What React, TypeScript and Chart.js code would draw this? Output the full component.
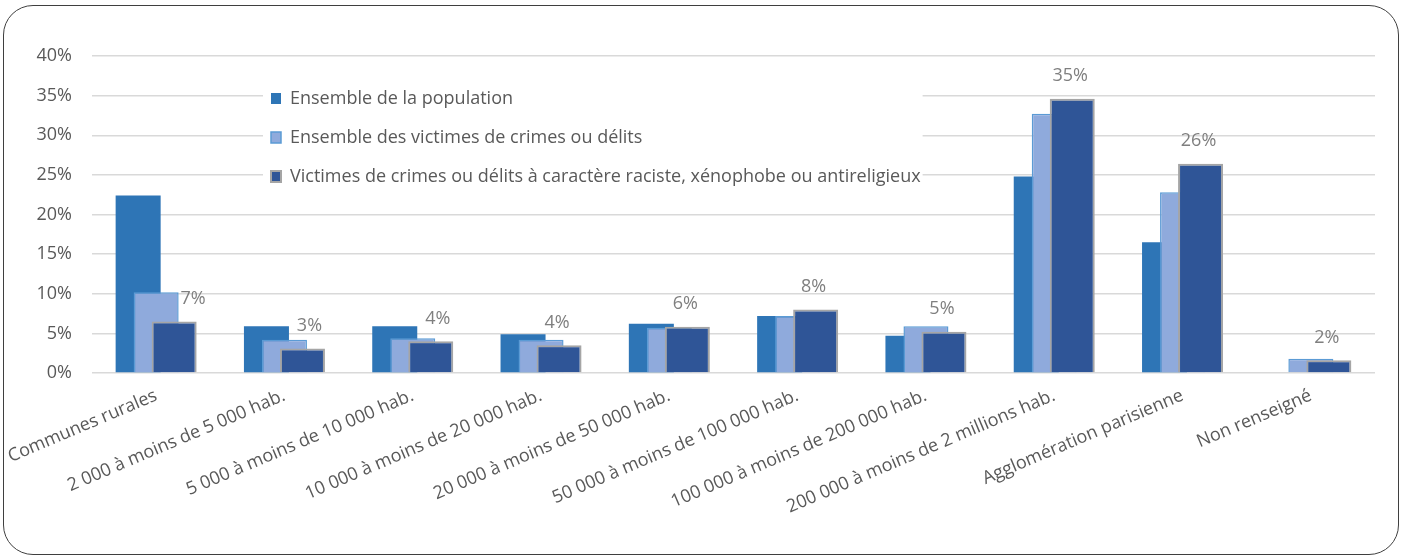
import { useEffect, useRef } from 'react';
import { Chart, registerables } from 'chart.js';

Chart.register(...registerables);

// ---- data ----
const categories = [
  'Communes rurales',
  '2 000 à moins de 5 000 hab.',
  '5 000 à moins de 10 000 hab.',
  '10 000 à moins de 20 000 hab.',
  '20 000 à moins de 50 000 hab.',
  '50 000 à moins de 100 000 hab.',
  '100 000 à moins de 200 000 hab.',
  '200 000 à moins de 2 millions hab.',
  'Agglomération parisienne',
  'Non renseigné',
];
const seriesNames = [
  'Ensemble de la population',
  'Ensemble des victimes de crimes ou délits',
  'Victimes de crimes ou délits à caractère raciste, xénophobe ou antireligieux',
];
const populationValues = [22.4, 5.9, 5.9, 4.9, 6.2, 7.2, 4.7, 24.8, 16.5, 0];
const victimsValues = [10.2, 4.2, 4.4, 4.2, 5.7, 7.2, 5.9, 32.7, 22.8, 1.8];
const racistValues = [6.5, 3.1, 4.0, 3.5, 5.85, 8.0, 5.2, 34.6, 26.4, 1.6];
const yMax = 40;
const yStep = 5;

// ---- style ----
const FONT = "'Open Sans', sans-serif";
const FS = 18;
const TEXT = '#595959';
const LABEL_COLOR = '#7f7f7f';
const W = 1402;
const H = 558;
const labelShift = [19, 7, 7, -2, -2, -2, -2, -2, -2, -2];

const legendPlacePlugin = {
  id: 'legendPlace',
  afterLayout(chart: any) {
    const lg = chart.legend;
    if (!lg) return;
    const pad = lg.options.labels.padding;
    lg.left = 271 - pad;
    lg.top = 89.5 - pad;
    lg.right = chart.width;
    lg.bottom = chart.height;
  },
};

const drawOrderPlugin = {
  id: 'drawOrder',
  beforeDatasetsDraw(chart: any) {
    const ctx = chart.ctx;
    const lg = chart.legend;
    if (lg && lg.legendHitBoxes && lg.legendHitBoxes.length) {
      let l = Infinity, t = Infinity, r = -Infinity, b = -Infinity;
      for (const h of lg.legendHitBoxes) {
        l = Math.min(l, h.left);
        t = Math.min(t, h.top);
        r = Math.max(r, h.left + h.width);
        b = Math.max(b, h.top + h.height);
      }
      ctx.save();
      ctx.fillStyle = '#ffffff';
      ctx.fillRect(l - 8, t - 12, r - l + 10, b - t + 24);
      ctx.restore();
      lg.draw();
    }
    for (let i = 0; i < chart.data.datasets.length; i++) {
      if (chart.isDatasetVisible(i)) chart.getDatasetMeta(i).controller.draw();
    }
    return false;
  },
  afterDraw(chart: any) {
    const ctx = chart.ctx;
    const idx = 2;
    const meta = chart.getDatasetMeta(idx);
    const data = chart.data.datasets[idx].data as number[];
    ctx.save();
    ctx.font = `${FS}px ${FONT}`;
    ctx.fillStyle = LABEL_COLOR;
    ctx.textAlign = 'center';
    ctx.textBaseline = 'middle';
    meta.data.forEach((el: any, i: number) => {
      ctx.fillText(Math.round(data[i]) + '%', el.x + labelShift[i], el.y - 22.5);
    });
    ctx.restore();
  },
};

export default function App() {
  const ref = useRef<HTMLCanvasElement>(null);

  useEffect(() => {
    if (!ref.current) return;
    Chart.defaults.font.family = FONT;
    const chart = new Chart(ref.current, {
      type: 'bar',
      data: {
        labels: categories,
        datasets: [
          {
            label: seriesNames[0],
            data: populationValues,
            backgroundColor: '#2e75b6',
            borderColor: '#2e75b6',
            borderWidth: 0,
          },
          {
            label: seriesNames[1],
            data: victimsValues,
            backgroundColor: '#8faadc',
            borderColor: '#5b9bd5',
            borderWidth: 1.5,
          },
          {
            label: seriesNames[2],
            data: racistValues,
            backgroundColor: '#2f5597',
            borderColor: '#a5a5a5',
            borderWidth: 2,
          },
        ],
      },
      options: {
        responsive: false,
        animation: false,
        devicePixelRatio: 1,
        layout: { padding: { top: 56, right: 27, left: 0, bottom: 0 } },
        datasets: {
          bar: { categoryPercentage: 0.421, barPercentage: 2.5 },
        },
        scales: {
          x: {
            grid: { display: false, drawTicks: false },
            border: { display: false },
            ticks: {
              autoSkip: false,
              minRotation: 23,
              maxRotation: 23,
              color: TEXT,
              font: { size: FS, family: FONT },
              padding: 12,
            },
            afterFit: (s: any) => {
              s.height = H - 373;
              s.paddingLeft = 0;
              s.paddingRight = 0;
            },
          },
          y: {
            min: 0,
            max: yMax,
            grid: { color: '#d9d9d9', lineWidth: 1.5, drawTicks: false },
            border: { display: false },
            ticks: {
              stepSize: yStep,
              callback: (v: any) => v + '%',
              color: TEXT,
              font: { size: FS, family: FONT },
              padding: 20,
            },
            afterFit: (s: any) => {
              s.width = 92;
            },
          },
        },
        plugins: {
          legend: {
            position: 'chartArea' as any,
            align: 'start',
            labels: {
              boxWidth: 10,
              boxHeight: 11,
              padding: 21,
              color: TEXT,
              font: { size: FS, family: FONT },
            },
          },
          tooltip: { enabled: false },
        },
      },
      plugins: [legendPlacePlugin, drawOrderPlugin],
    } as any);
    return () => chart.destroy();
  }, []);

  return (
    <div style={{ position: 'fixed', left: 0, top: 0, width: W, height: H, background: '#fff' }}>
      <canvas
        ref={ref}
        width={W}
        height={H}
        style={{ position: 'absolute', left: 0, top: 0, width: W, height: H }}
      />
      <div
        style={{
          position: 'absolute',
          left: 3,
          top: 5,
          width: 1396,
          height: 550,
          boxSizing: 'border-box',
          border: '1.75px solid #3f3f3f',
          borderRadius: 30,
          pointerEvents: 'none',
        }}
      />
    </div>
  );
}
